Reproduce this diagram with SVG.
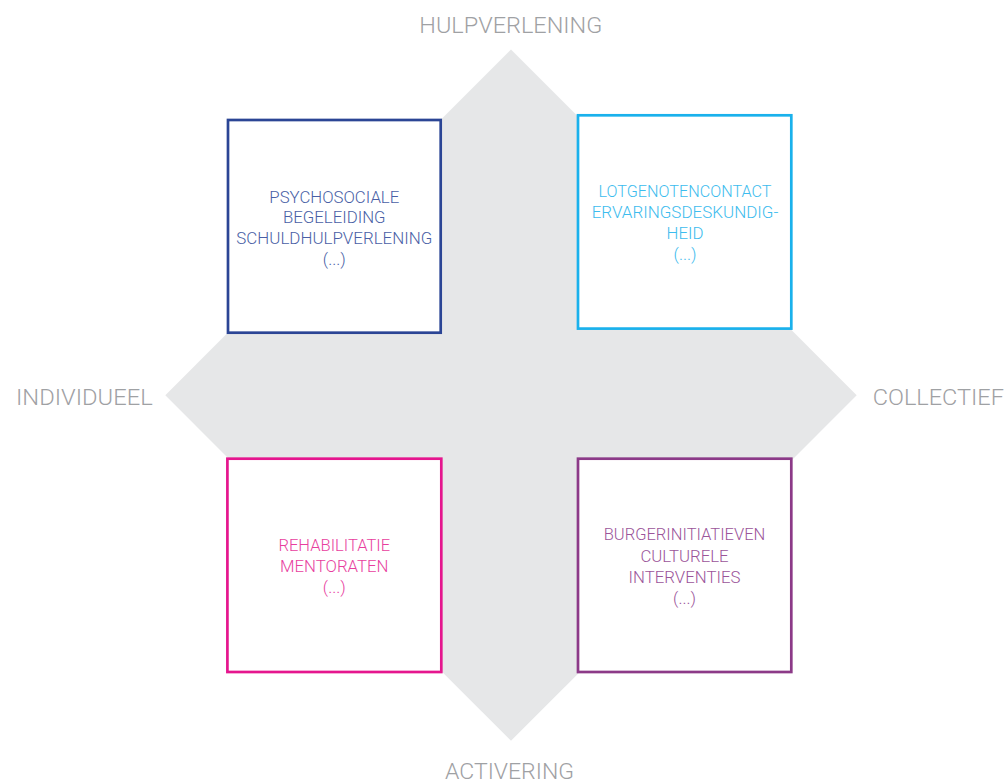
<svg xmlns="http://www.w3.org/2000/svg" width="1006" height="781" viewBox="0 0 1006 781">
<style>
.axis{font-family:Roboto,"Liberation Sans",sans-serif;font-weight:300;font-size:22.5px;fill:#9fa1a4;}
.box{fill:#ffffff;stroke-width:2.7;}
.t{font-family:Roboto,"Liberation Sans",sans-serif;font-weight:300;font-size:16.8px;text-anchor:middle;}
</style>
<rect width="1006" height="781" fill="#ffffff"/>
<g id="background">
<polygon points="511,49.5 856.7,395.3 511,740.7 165.3,395.3" fill="#e6e7e8"/>
</g>
<g id="connectors"></g>
<g id="axis-labels">
<text class="axis" x="419.3" y="32.7" textLength="183" lengthAdjust="spacingAndGlyphs">HULPVERLENING</text>
<text class="axis" x="445" y="778.7" textLength="129" lengthAdjust="spacingAndGlyphs">ACTIVERING</text>
<text class="axis" x="16" y="405" textLength="136.7" lengthAdjust="spacingAndGlyphs">INDIVIDUEEL</text>
<text class="axis" x="872.7" y="405" textLength="131.3" lengthAdjust="spacingAndGlyphs">COLLECTIEF</text>
</g>
<g id="node-tl">
<rect class="box" x="228" y="120" width="212.7" height="212.7" stroke="#2b4595"/>
<g class="t" fill="#4a5fa6">
<text x="334.3" y="202.7">PSYCHOSOCIALE</text>
<text x="334.3" y="223.3">BEGELEIDING</text>
<text x="334.3" y="244" textLength="196" lengthAdjust="spacingAndGlyphs">SCHULDHULPVERLENING</text>
<text x="334.3" y="264.7">(...)</text>
</g>
</g>
<g id="node-tr">
<rect class="box" x="578" y="115.3" width="213.3" height="213.3" stroke="#1ab1ec"/>
<g class="t" fill="#3dbcee">
<text x="685" y="196.7" textLength="173" lengthAdjust="spacingAndGlyphs">LOTGENOTENCONTACT</text>
<text x="685" y="217.7" textLength="186.7" lengthAdjust="spacingAndGlyphs">ERVARINGSDESKUNDIG-</text>
<text x="685" y="238.7">HEID</text>
<text x="685" y="259.7">(...)</text>
</g>
</g>
<g id="node-bl">
<rect class="box" x="227.4" y="458.7" width="213.9" height="213.3" stroke="#e5168e"/>
<g class="t" fill="#e83e9e">
<text x="334.3" y="551" textLength="111.7" lengthAdjust="spacingAndGlyphs">REHABILITATIE</text>
<text x="334.3" y="572">MENTORATEN</text>
<text x="334.3" y="593">(...)</text>
</g>
</g>
<g id="node-br">
<rect class="box" x="578" y="458.7" width="213.3" height="213.3" stroke="#8c3a88"/>
<g class="t" fill="#9b559a">
<text x="684.5" y="540" textLength="161.7" lengthAdjust="spacingAndGlyphs">BURGERINITIATIEVEN</text>
<text x="684.5" y="561.7">CULTURELE</text>
<text x="684.5" y="582.7">INTERVENTIES</text>
<text x="684.5" y="603.7">(...)</text>
</g>
</g>
</svg>
